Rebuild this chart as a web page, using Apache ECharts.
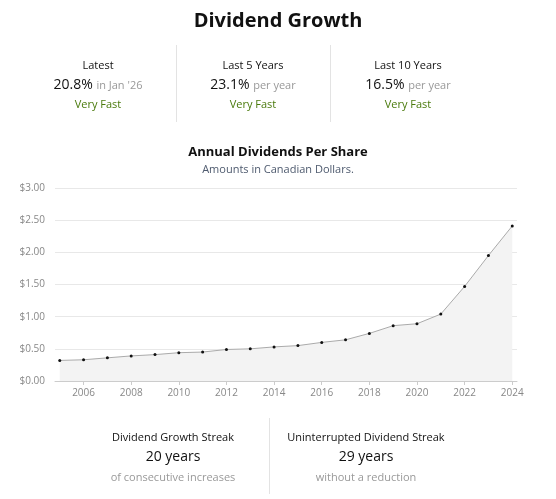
<!DOCTYPE html>
<html>
<head>
<meta charset="utf-8">
<script src="https://cdn.jsdelivr.net/npm/echarts@6/dist/echarts.min.js"></script>
<style>
  html, body { margin: 0; padding: 0; background: #fff; }
  body { width: 556px; height: 499px; position: relative; overflow: hidden; font-family: "Open Sans", sans-serif; color: #111; }
  #chart { position: absolute; left: 0; top: 0; width: 556px; height: 499px; }
  .abs { position: absolute; text-align: center; white-space: nowrap; }
  .h1 { left: 0; width: 556px; top: 6px; font-size: 20px; font-weight: 700; }
  .col { width: 150px; }
  .lbl { font-size: 11px; }
  .val { font-size: 14px; }
  .val span { font-size: 11px; color: #999; }
  .good { font-size: 11px; color: #4a7a0c; }
  .sub { font-size: 11px; color: #999; }
  .vline { position: absolute; width: 1px; background: #e3e3e3; }
</style>
</head>
<body>
<div id="chart"></div>
<div class="abs h1">Dividend Growth</div>
<div class="vline" style="left:176px;top:45px;height:77px"></div>
<div class="vline" style="left:330px;top:45px;height:77px"></div>
<div class="vline" style="left:269px;top:418px;height:76px"></div>
<div id="stats"></div>
<script>
var years = [2005, 2006, 2007, 2008, 2009, 2010, 2011, 2012, 2013, 2014,
             2015, 2016, 2017, 2018, 2019, 2020, 2021, 2022, 2023, 2024];
var dividends = [0.32, 0.33, 0.36, 0.39, 0.41, 0.44, 0.45, 0.49, 0.50, 0.53,
                 0.55, 0.60, 0.64, 0.74, 0.86, 0.89, 1.04, 1.47, 1.95, 2.41];
var yearTicks = [2006, 2008, 2010, 2012, 2014, 2016, 2018, 2020, 2022, 2024];

var growthLabels = ['Latest', 'Last 5 Years', 'Last 10 Years'];
var growthValues = ['20.8%', '23.1%', '16.5%'];
var growthNotes = ['in Jan \'26', 'per year', 'per year'];
var growthRatings = ['Very Fast', 'Very Fast', 'Very Fast'];

var streakLabels = ['Dividend Growth Streak', 'Uninterrupted Dividend Streak'];
var streakValues = ['20 years', '29 years'];
var streakNotes = ['of consecutive increases', 'without a reduction'];

// stat blocks
var html = '';
var colX = [98, 253, 408];
for (var i = 0; i < 3; i++) {
  var l = colX[i] - 75;
  html += '<div class="abs col lbl" style="left:' + l + 'px;top:57px">' + growthLabels[i] + '</div>';
  html += '<div class="abs col val" style="left:' + l + 'px;top:74px">' + growthValues[i] + ' <span>' + growthNotes[i] + '</span></div>';
  html += '<div class="abs col good" style="left:' + l + 'px;top:96px">' + growthRatings[i] + '</div>';
}
var streakX = [173, 366];
for (var j = 0; j < 2; j++) {
  var l2 = streakX[j] - 90;
  html += '<div class="abs lbl" style="width:180px;left:' + l2 + 'px;top:429px">' + streakLabels[j] + '</div>';
  html += '<div class="abs val" style="width:180px;left:' + l2 + 'px;top:446px">' + streakValues[j] + '</div>';
  html += '<div class="abs sub" style="width:180px;left:' + l2 + 'px;top:469px">' + streakNotes[j] + '</div>';
}
document.getElementById('stats').innerHTML = html;

var points = [];
for (var k = 0; k < years.length; k++) points.push([years[k], dividends[k]]);

var chart = echarts.init(document.getElementById('chart'));
chart.setOption({
  animation: false,
  textStyle: { fontFamily: 'Open Sans' },
  title: {
    text: 'Annual Dividends Per Share',
    subtext: 'Amounts in Canadian Dollars.',
    left: 'center',
    top: 141,
    itemGap: 5,
    textStyle: { fontSize: 13, fontWeight: 'bold', color: '#111' },
    subtextStyle: { fontSize: 11, color: '#4e5a6e' }
  },
  grid: { left: 55, right: 39, top: 188, bottom: 118 },
  xAxis: {
    type: 'value',
    min: 2004.8,
    max: 2024.2,
    splitLine: { show: false },
    axisLine: { lineStyle: { color: '#ccc' } },
    axisTick: { customValues: yearTicks, length: 4, lineStyle: { color: '#ccc' } },
    axisLabel: {
      customValues: yearTicks, color: '#888', fontSize: 10, margin: 7,
      formatter: function (v) { return String(v); }
    }
  },
  yAxis: {
    type: 'value',
    min: 0,
    max: 3,
    interval: 0.5,
    axisLine: { show: false },
    axisTick: { show: false },
    splitLine: { lineStyle: { color: '#e8e8e8' } },
    axisLabel: {
      color: '#888', fontSize: 10, margin: 10,
      formatter: function (v) { return '$' + v.toFixed(2); }
    }
  },
  series: [{
    type: 'line',
    data: points,
    symbol: 'circle',
    symbolSize: 3,
    itemStyle: { color: '#111' },
    lineStyle: { color: '#aaa', width: 1 },
    areaStyle: { color: '#f3f3f3', opacity: 1 }
  }]
});
</script>
</body>
</html>
